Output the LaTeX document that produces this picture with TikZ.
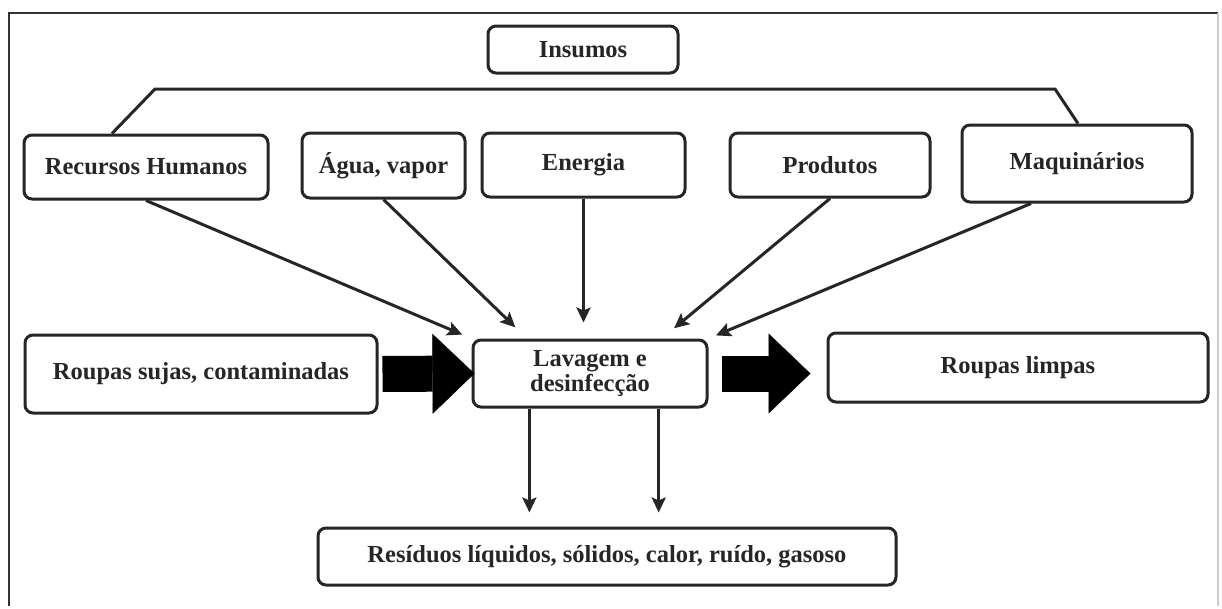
\documentclass[tikz,border=0pt]{standalone}
\usepackage{fontspec}
\setmainfont{Liberation Serif}
\usetikzlibrary{arrows.meta}

\begin{document}
\begin{tikzpicture}[x=1pt,y=-1pt,
  box/.style={draw=black!85,line width=3pt,rounded corners=8pt,fill=white,
    align=center,inner sep=0pt,text=black!85,
    font=\bfseries\fontsize{24.5}{25.5}\selectfont},
  link/.style={draw=black!85,line width=3pt},
  flow/.style={link,-{Stealth[length=15pt,width=14pt,inset=3pt]}},
  big/.style={black,line width=36pt,
    -{Triangle[length=42pt,width=80pt,line width=0.5pt]}}]
\useasboundingbox (0,0) rectangle (1222,608);
\draw[black!80,line width=1.8pt] (9,606) -- (9,13) -- (1218,13);
\draw[black!20,line width=1.2pt] (1218,13) -- (1218,606);

\node[box,minimum width=190pt,minimum height=47pt] (n0) at (583,49.5) {Insumos};
\node[box,minimum width=244pt,minimum height=64pt] (n1) at (146,167) {Recursos Humanos};
\node[box,minimum width=163pt,minimum height=65pt] (n2) at (383.5,165.5) {Água, vapor};
\node[box,minimum width=203pt,minimum height=64pt] (n3) at (583.5,165) {Energia};
\node[box,minimum width=200pt,minimum height=64pt] (n4) at (830,165) {Produtos};
\node[box,minimum width=230pt,minimum height=77pt] (n5) at (1077,163.5) {Maquinários};
\node[box,minimum width=352pt,minimum height=78pt] (n6) at (201,374) {Roupas sujas, contaminadas};
\node[box,minimum width=234pt,minimum height=67pt] (middle) at (590,373.5) {Lavagem e\\desinfecção};
\node[box,minimum width=380pt,minimum height=69pt] (n7) at (1018,367.5) {Roupas limpas};
\node[box,minimum width=578pt,minimum height=57pt] (n8) at (607,556.5) {Resíduos líquidos, sólidos, calor, ruído, gasoso};

% bracket over the inputs
\coordinate (k0) at (112,0);
\coordinate (k1) at (155,89);
\coordinate (k2) at (1055,89);
\coordinate (k3) at (1078,0);
\draw[link] (n1.north -| k0) -- (k1) -- (k2) -- (n5.north -| k3);

\draw[flow,shorten >=10pt] (n1.south) -- (middle.north west);
\draw[flow,shorten >=16pt] (n2.south) -- (middle.151);
\draw[flow,shorten >=16pt] (n3.south) -- (n3.south |- middle.north);
\draw[flow,shorten >=16pt] (n4.south) -- (middle.26);
\draw[flow,shorten >=8pt] (n5.221) -- (middle.north east);

\draw[flow,shorten >=14pt] (middle.210) -- (middle.210 |- n8.north);
\draw[flow,shorten >=14pt] (middle.333) -- (middle.333 |- n8.north);

\draw[big,shorten <=4pt,shorten >=-3pt] (n6.east) -- (middle.west);
\draw[big,shorten <=13pt,shorten >=16pt] (middle.east) -- (middle.east -| n7.west);
\end{tikzpicture}
\end{document}
